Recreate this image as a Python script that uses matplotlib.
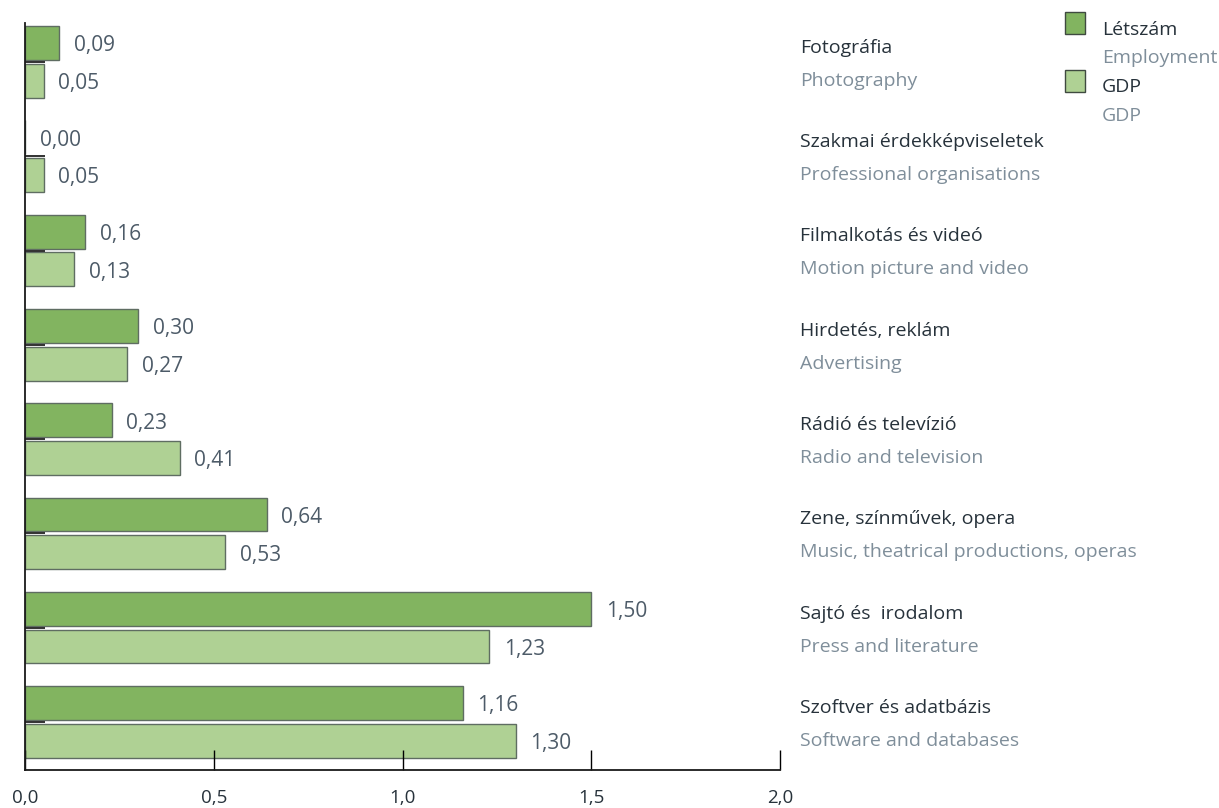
import matplotlib.pyplot as plt
from matplotlib.patches import Rectangle
from matplotlib.transforms import blended_transform_factory

plt.rcParams['font.family'] = ['Open Sans', 'DejaVu Sans']

# data (top to bottom)
cats_hu = ['Fotográfia', 'Szakmai érdekképviseletek', 'Filmalkotás és videó',
           'Hirdetés, reklám', 'Rádió és televízió', 'Zene, színművek, opera',
           'Sajtó és  irodalom', 'Szoftver és adatbázis']
cats_en = ['Photography', 'Professional organisations', 'Motion picture and video',
           'Advertising', 'Radio and television', 'Music, theatrical productions, operas',
           'Press and literature', 'Software and databases']
letszam = [0.09, 0.00, 0.16, 0.30, 0.23, 0.64, 1.50, 1.16]
gdp = [0.05, 0.05, 0.13, 0.27, 0.41, 0.53, 1.23, 1.30]
xticks = [0.0, 0.5, 1.0, 1.5, 2.0]

col_let = '#82b460'
col_gdp = '#afd194'
edge = '#5f6d62'
c_hu = '#27323b'
c_en = '#7f8e9a'
c_val = '#4d5b68'
fs = 14
fs_val = 15

fig = plt.figure(figsize=(12.19, 8.08), dpi=100)
ax = fig.add_axes([25/1219, 1 - 770/808, 755/1219, 747/808])

ypos = list(range(len(cats_hu)))
h = 0.36
ax.barh([y - 0.2 for y in ypos], letszam, height=h, color=col_let,
        edgecolor=edge, linewidth=1)
ax.barh([y + 0.2 for y in ypos], gdp, height=h, color=col_gdp,
        edgecolor=edge, linewidth=1)

# value labels
for off, vals in [(-0.2, letszam), (0.2, gdp)]:
    for y, v in zip(ypos, vals):
        ax.annotate(f'{v:.2f}'.replace('.', ','), (v, y + off), xytext=(10.5, -2),
                    textcoords='offset points', va='center', ha='left',
                    fontsize=fs_val, color=c_val)

# category labels to the right
tr = blended_transform_factory(ax.transAxes, ax.transData)
lx = (800 - 25) / 755
for y, hu, en in zip(ypos, cats_hu, cats_en):
    ax.text(lx, y - 0.15, hu, transform=tr, va='center', ha='left',
            fontsize=fs, color=c_hu)
    ax.text(lx, y + 0.2, en, transform=tr, va='center', ha='left',
            fontsize=fs, color=c_en)

ax.set_xlim(0, 2.0)
ax.set_ylim(7.51, -0.414)
ax.set_xticks(xticks)
ax.set_xticklabels([f'{t:.1f}'.replace('.', ',') for t in xticks],
                   fontsize=13.5, color=c_hu)
ax.set_yticks(ypos)
ax.set_yticklabels([])
ax.tick_params(axis='x', direction='in', length=14.5, width=1, color='black', pad=14)
ax.tick_params(axis='y', direction='in', length=14.5, width=1.3, color='#222222')
for s in ['top', 'right']:
    ax.spines[s].set_visible(False)
for s in ['left', 'bottom']:
    ax.spines[s].set_linewidth(1.3)
    ax.spines[s].set_color('#1a1a1a')

# legend (manual)
W, H = 1219, 808
for top, c in [(12, col_let), (70, col_gdp)]:
    fig.patches.append(Rectangle((1065/W, 1 - (top + 22)/H), 20/W, 22/H,
                                 facecolor=c, edgecolor='#3f4a40', linewidth=1,
                                 transform=fig.transFigure))
leg_txt = [('Létszám', 30, c_hu), ('Employment', 58, c_en),
           ('GDP', 87, c_hu), ('GDP', 116, c_en)]
for t, yy, c in leg_txt:
    fig.text(1102/W, 1 - yy/H, t, fontsize=fs, color=c, va='center', ha='left')

fig.savefig('out.png', dpi=100)
